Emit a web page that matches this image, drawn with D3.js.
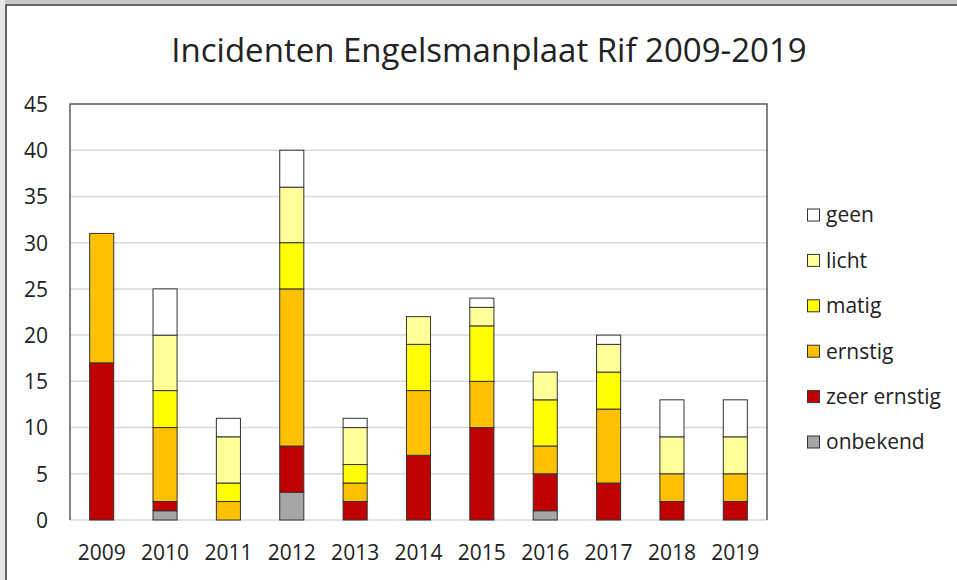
<!DOCTYPE html>
<html>
<head>
<meta charset="utf-8">
<script src="https://d3js.org/d3.v7.min.js"></script>
<style>
  body { margin: 0; background: #fff; }
  text { font-family: "Open Sans", "Noto Sans", sans-serif; fill: #222; }
</style>
</head>
<body>
<div id="chart"></div>
<script>
var years = ['2009','2010','2011','2012','2013','2014','2015','2016','2017','2018','2019'];
var categories = ['onbekend','zeer ernstig','ernstig','matig','licht','geen'];
var colors = ['#a6a6a6','#c00000','#ffc000','#ffff00','#ffff99','#ffffff'];

var onbekend    = [0, 1, 0, 3, 0, 0, 0, 1, 0, 0, 0];
var zeerErnstig = [17, 1, 0, 5, 2, 7, 10, 4, 4, 2, 2];
var ernstig     = [14, 8, 2, 17, 2, 7, 5, 3, 8, 3, 3];
var matig       = [0, 4, 2, 5, 2, 5, 6, 5, 4, 0, 0];
var licht       = [0, 6, 5, 6, 4, 3, 2, 3, 3, 4, 4];
var geen        = [0, 5, 2, 4, 1, 0, 1, 0, 1, 4, 4];
var yTicks = [0, 5, 10, 15, 20, 25, 30, 35, 40, 45];

var series = [onbekend, zeerErnstig, ernstig, matig, licht, geen];
var rows = years.map(function(y, i) {
  var r = { year: y };
  categories.forEach(function(c, j) { r[c] = series[j][i]; });
  return r;
});

var W = 957, H = 580;
var plot = { left: 70, top: 104, right: 767, bottom: 520 };

var svg = d3.select('#chart').append('svg').attr('width', W).attr('height', H);

// screenshot-like frame: light band + dark line on top and left only
svg.append('rect').attr('x', 0).attr('y', 0).attr('width', W).attr('height', 4).attr('fill', '#c8c8c8');
svg.append('rect').attr('x', 0).attr('y', 0).attr('width', 5).attr('height', H).attr('fill', '#e6e6e6');
svg.append('path').attr('d', 'M6,' + H + 'V5H' + W)
  .attr('fill', 'none').attr('stroke', '#333').attr('stroke-width', 1.5);

svg.append('text').attr('x', 489).attr('y', 62).attr('text-anchor', 'middle')
  .style('font-size', '33px').text('Incidenten Engelsmanplaat Rif 2009-2019');

var x = d3.scaleBand().domain(years).range([plot.left, plot.right]).paddingInner(0.62).paddingOuter(0.31);
var y = d3.scaleLinear().domain([0, 45]).range([plot.bottom, plot.top]);

// gridlines
svg.append('g').selectAll('line').data(yTicks.slice(1, -1)).enter().append('line')
  .attr('x1', plot.left).attr('x2', plot.right)
  .attr('y1', function(d) { return y(d); }).attr('y2', function(d) { return y(d); })
  .attr('stroke', '#d9d9d9').attr('stroke-width', 1.5);

// bottom axis line
svg.append('line').attr('x1', plot.left).attr('x2', plot.right)
  .attr('y1', plot.bottom).attr('y2', plot.bottom).attr('stroke', '#d9d9d9').attr('stroke-width', 1.5);

// plot border top/left/right
svg.append('path')
  .attr('d', 'M' + plot.left + ',' + plot.bottom + 'V' + plot.top + 'H' + plot.right + 'V' + plot.bottom)
  .attr('fill', 'none').attr('stroke', '#595959').attr('stroke-width', 1.5);

var stack = d3.stack().keys(categories);
var stacked = stack(rows);

var layer = svg.append('g').selectAll('g').data(stacked).enter().append('g')
  .attr('fill', function(d, i) { return colors[i]; });
layer.selectAll('rect').data(function(d) { return d; }).enter()
  .filter(function(d) { return d[1] - d[0] > 0; })
  .append('rect')
  .attr('x', function(d) { return x(d.data.year); })
  .attr('width', x.bandwidth())
  .attr('y', function(d) { return y(d[1]); })
  .attr('height', function(d) { return y(d[0]) - y(d[1]); })
  .attr('stroke', '#333').attr('stroke-width', 1);

// y axis labels
var yAxis = d3.axisLeft(y).tickValues(yTicks).tickSize(0).tickPadding(0);
var gy = svg.append('g').attr('transform', 'translate(48,0)').call(yAxis);
gy.select('.domain').remove();
gy.selectAll('text').style('font-size', '21px').attr('fill', '#222').attr('dy', '0.35em')
  .style('font-family', '"Open Sans", sans-serif');

// x axis labels
var xAxis = d3.axisBottom(x).tickSize(0).tickPadding(0);
var gx = svg.append('g').attr('transform', 'translate(0,560)').call(xAxis);
gx.select('.domain').remove();
gx.selectAll('text').style('font-size', '21px').attr('fill', '#222').attr('dy', '0').attr('y', 0)
  .style('font-family', '"Open Sans", sans-serif');

// legend (top = geen)
var legendOrder = categories.slice().reverse();
var leg = svg.append('g').selectAll('g').data(legendOrder).enter().append('g')
  .attr('transform', function(d, i) { return 'translate(807,' + (215 + i * 45.4) + ')'; });
leg.append('rect').attr('x', 0.5).attr('y', -6).attr('width', 12).attr('height', 12)
  .attr('fill', function(d) { return colors[categories.indexOf(d)]; })
  .attr('stroke', '#333').attr('stroke-width', 1);
leg.append('text').attr('x', 19).attr('dy', '0.35em').style('font-size', '21px').text(function(d) { return d; });
</script>
</body>
</html>
